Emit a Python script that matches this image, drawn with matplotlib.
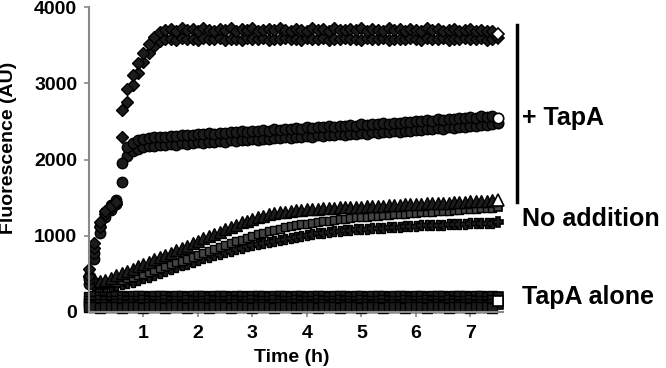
import numpy as np
import matplotlib
matplotlib.use("Agg")
import matplotlib.pyplot as plt
from matplotlib.lines import Line2D

plt.rcParams['font.family'] = ['Liberation Sans', 'DejaVu Sans']
plt.rcParams['font.weight'] = 'bold'

# sampling times (h), every 0.1 h from 0 to 7.5
time_h = np.round(np.arange(0, 7.51, 0.1), 1)

# + TapA, upper curves (diamonds)
tapa_diamond_a = [560, 900, 1180, 1320, 1390, 1440, 2650, 2920, 3110, 3260,
                  3400, 3520, 3610, 3670, 3700, 3710, 3690, 3720, 3700, 3710,
                  3690, 3720, 3700, 3690, 3715, 3700, 3720, 3690, 3710, 3700,
                  3720, 3690, 3700, 3715, 3695, 3720, 3700, 3690, 3710, 3700,
                  3690, 3720, 3700, 3710, 3690, 3720, 3700, 3695, 3715, 3700,
                  3720, 3690, 3710, 3700, 3690, 3720, 3700, 3710, 3690, 3715,
                  3700, 3690, 3720, 3700, 3710, 3690, 3700, 3715, 3690, 3700,
                  3710, 3690, 3700, 3680, 3690, 3650]
tapa_diamond_b = [470, 840, 1120, 1280, 1360, 1410, 2300, 2760, 2980, 3140,
                  3280, 3400, 3490, 3550, 3575, 3580, 3570, 3590, 3575, 3585,
                  3570, 3590, 3580, 3575, 3590, 3570, 3585, 3580, 3570, 3590,
                  3580, 3575, 3590, 3570, 3585, 3580, 3590, 3575, 3580, 3570,
                  3590, 3580, 3575, 3590, 3570, 3585, 3580, 3590, 3575, 3580,
                  3570, 3590, 3580, 3575, 3590, 3570, 3585, 3580, 3575, 3590,
                  3580, 3570, 3590, 3580, 3575, 3590, 3570, 3585, 3580, 3590,
                  3575, 3580, 3590, 3570, 3585, 3600]

# + TapA, middle curves (circles)
tapa_circle_a = [430, 780, 1130, 1310, 1400, 1470, 1950, 2160, 2220, 2250,
                 2270, 2285, 2290, 2300, 2295, 2310, 2305, 2315, 2320, 2320,
                 2335, 2330, 2345, 2340, 2350, 2345, 2360, 2355, 2370, 2365,
                 2380, 2375, 2385, 2380, 2395, 2390, 2405, 2400, 2410, 2405,
                 2420, 2415, 2425, 2420, 2435, 2430, 2445, 2440, 2450, 2445,
                 2460, 2455, 2470, 2465, 2475, 2470, 2485, 2480, 2495, 2490,
                 2505, 2500, 2515, 2510, 2525, 2520, 2535, 2530, 2545, 2540,
                 2555, 2550, 2565, 2560, 2575, 2540]
tapa_circle_b = [370, 690, 1040, 1240, 1340, 1410, 1700, 2040, 2110, 2140,
                 2160, 2175, 2180, 2190, 2185, 2200, 2195, 2210, 2205, 2215,
                 2225, 2220, 2235, 2230, 2240, 2235, 2250, 2245, 2255, 2250,
                 2265, 2260, 2275, 2270, 2285, 2280, 2290, 2285, 2300, 2295,
                 2305, 2300, 2315, 2310, 2320, 2315, 2330, 2325, 2335, 2330,
                 2345, 2340, 2355, 2350, 2360, 2355, 2370, 2365, 2380, 2375,
                 2390, 2385, 2400, 2395, 2410, 2405, 2420, 2415, 2430, 2425,
                 2440, 2435, 2455, 2450, 2465, 2480]

# No addition (triangles, squares, crosses)
noadd_triangle = [540, 430, 410, 420, 450, 480, 510, 540, 570, 600,
                  630, 660, 690, 720, 750, 780, 810, 840, 870, 900,
                  935, 965, 995, 1025, 1055, 1085, 1115, 1145, 1175, 1200,
                  1225, 1245, 1265, 1280, 1295, 1305, 1315, 1325, 1335, 1340,
                  1345, 1350, 1355, 1360, 1365, 1370, 1372, 1375, 1378, 1380,
                  1383, 1386, 1390, 1393, 1396, 1400, 1403, 1406, 1410, 1413,
                  1416, 1420, 1423, 1426, 1430, 1433, 1436, 1440, 1443, 1446,
                  1450, 1453, 1456, 1460, 1463, 1466]
noadd_square = [500, 400, 370, 370, 380, 400, 420, 440, 460, 480,
                500, 525, 550, 575, 600, 625, 650, 675, 700, 725,
                750, 775, 800, 825, 850, 875, 900, 925, 950, 975,
                1000, 1020, 1040, 1060, 1080, 1095, 1110, 1125, 1140, 1150,
                1160, 1170, 1180, 1190, 1200, 1210, 1218, 1226, 1234, 1240,
                1246, 1252, 1258, 1264, 1270, 1275, 1280, 1285, 1290, 1295,
                1300, 1305, 1310, 1315, 1320, 1325, 1330, 1335, 1340, 1345,
                1350, 1355, 1360, 1365, 1370, 1375]
noadd_cross = [460, 360, 330, 330, 340, 355, 370, 385, 400, 420,
               440, 460, 485, 510, 535, 560, 585, 610, 635, 660,
               685, 705, 725, 745, 765, 785, 805, 825, 845, 860,
               875, 890, 905, 920, 935, 950, 962, 974, 986, 998,
               1010, 1020, 1030, 1040, 1048, 1056, 1064, 1072, 1078, 1084,
               1090, 1095, 1100, 1104, 1108, 1112, 1116, 1120, 1124, 1128,
               1132, 1135, 1138, 1141, 1144, 1147, 1150, 1153, 1156, 1159,
               1162, 1165, 1168, 1170, 1172, 1175]

# TapA alone
alone_a = [200, 210, 205, 215, 200, 210, 205, 200, 210, 215,
           205, 200, 210, 205, 215, 200, 210, 205, 200, 210,
           215, 205, 200, 210, 205, 215, 200, 210, 205, 200,
           210, 215, 205, 200, 210, 205, 215, 200, 210, 205,
           200, 210, 215, 205, 200, 210, 205, 215, 200, 210,
           205, 200, 210, 215, 205, 200, 210, 205, 215, 200,
           210, 205, 200, 210, 215, 205, 200, 210, 205, 215,
           200, 210, 205, 200, 210, 200]
alone_b = [150, 145, 155, 150, 140, 150, 155, 145, 150, 140,
           155, 150, 145, 150, 155, 140, 150, 145, 155, 150,
           140, 150, 155, 145, 150, 140, 155, 150, 145, 150,
           155, 140, 150, 145, 155, 150, 140, 150, 155, 145,
           150, 140, 155, 150, 145, 150, 155, 140, 150, 145,
           155, 150, 140, 150, 155, 145, 150, 140, 155, 150,
           145, 150, 155, 140, 150, 145, 155, 150, 140, 150,
           155, 145, 150, 140, 155, 150]
alone_c = [100, 95, 105, 100, 90, 100, 105, 95, 100, 90,
           105, 100, 95, 100, 105, 90, 100, 95, 105, 100,
           90, 100, 105, 95, 100, 90, 105, 100, 95, 100,
           105, 90, 100, 95, 105, 100, 90, 100, 105, 95,
           100, 90, 105, 100, 95, 100, 105, 90, 100, 95,
           105, 100, 90, 100, 105, 95, 100, 90, 105, 100,
           95, 100, 105, 90, 100, 95, 105, 100, 90, 100,
           105, 95, 100, 90, 105, 100]
alone_d = [60, 65, 55, 60, 70, 60, 55, 65, 60, 70,
           55, 60, 65, 60, 55, 70, 60, 65, 55, 60,
           70, 60, 55, 65, 60, 70, 55, 60, 65, 60,
           55, 70, 60, 65, 55, 60, 70, 60, 55, 65,
           60, 70, 55, 60, 65, 60, 55, 70, 60, 65,
           55, 60, 70, 60, 55, 65, 60, 70, 55, 60,
           65, 60, 55, 70, 60, 65, 55, 60, 70, 60,
           55, 65, 60, 70, 55, 150]

fig = plt.figure(figsize=(6.66, 3.68), dpi=100)
W, H = 666, 368
ax = fig.add_axes([89 / W, (H - 312) / H, 414 / W, 305 / H])

DARK = '#1c1c1c'


def draw(y, marker, ms, face=DARK, mew=1.0, open_end=False):
    ax.plot(time_h[:-1], y[:-1], marker=marker, markersize=ms, linestyle='none',
            markeredgecolor='black', markeredgewidth=mew, markerfacecolor=face,
            clip_on=False)
    # final reading drawn on top
    ax.plot(time_h[-1:], y[-1:], marker=marker, markersize=ms, linestyle='none',
            markeredgecolor='black', markeredgewidth=1.2,
            markerfacecolor='white' if open_end else face,
            clip_on=False, zorder=5 if open_end else 2)


# TapA alone
draw(alone_a, 's', 7.5)
draw(alone_b, 's', 7.5)
draw(alone_c, 's', 7.5)
draw(alone_d, 's', 7.5, open_end=True)
# No addition
draw(noadd_cross, 'P', 7.5)
draw(noadd_square, 's', 6, face='#444444')
draw(noadd_triangle, '^', 8, open_end=True)
# + TapA
draw(tapa_circle_b, 'o', 7.5)
draw(tapa_circle_a, 'o', 7.5, open_end=True)
draw(tapa_diamond_b, 'D', 6.5)
draw(tapa_diamond_a, 'D', 6.5, open_end=True)

ax.set_xlim(0, 7.6)
ax.set_ylim(0, 4000)
ax.set_xticks([1, 2, 3, 4, 5, 6, 7])
ax.set_yticks([0, 1000, 2000, 3000, 4000])
for side in ('top', 'right'):
    ax.spines[side].set_visible(False)
for side in ('left', 'bottom'):
    ax.spines[side].set_color('#8a8a8a')
    ax.spines[side].set_linewidth(1.5)
ax.tick_params(axis='both', colors='#8a8a8a', length=3.5, width=1.2,
               labelcolor='black', labelsize=14, direction='out')
ax.tick_params(axis='x', pad=6)
ax.tick_params(axis='y', pad=5)
for lbl in ax.get_xticklabels() + ax.get_yticklabels():
    lbl.set_fontweight('bold')

fig.text(9 / W, 1 - 148 / H, 'Fluorescence (AU)', rotation=90, ha='center',
         va='center', fontsize=14, fontweight='bold')
fig.text(292 / W, 1 - 358 / H, 'Time (h)', ha='center', va='center',
         fontsize=14, fontweight='bold')

fig.add_artist(Line2D([517 / W, 517 / W], [1 - 25 / H, 1 - 202 / H],
                      color='black', linewidth=2.5, transform=fig.transFigure))
fig.text(522 / W, 1 - 118 / H, '+ TapA', ha='left', va='center',
         fontsize=18, fontweight='bold')
fig.text(522 / W, 1 - 219 / H, 'No addition', ha='left', va='center',
         fontsize=18, fontweight='bold')
fig.text(522 / W, 1 - 297 / H, 'TapA alone', ha='left', va='center',
         fontsize=18, fontweight='bold')

fig.savefig('out.png', dpi=100)
